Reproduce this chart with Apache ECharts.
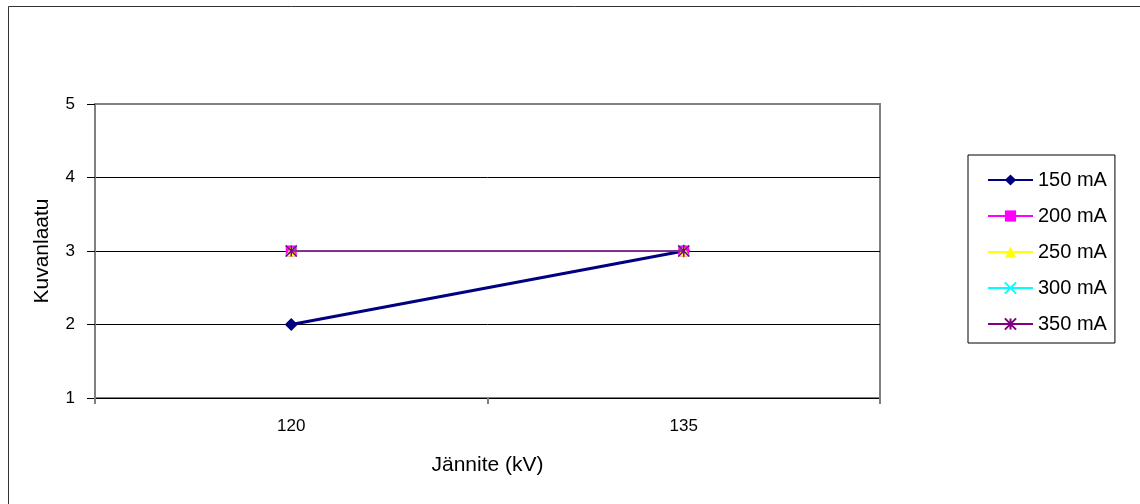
<!DOCTYPE html>
<html>
<head>
<meta charset="utf-8">
<script src="https://cdn.jsdelivr.net/npm/echarts@6/dist/echarts.min.js"></script>
<style>
  html, body { margin: 0; padding: 0; background: #fff; }
  #main { width: 1140px; height: 504px; }
</style>
</head>
<body>
<div id="main"></div>
<script>
// jännite (kV)
var categories = ['120', '135'];
// kuvanlaatu per virta
var s150 = [2, 3];
var s200 = [3, 3];
var s250 = [3, 3];
var s300 = [3, 3];
var s350 = [3, 3];

var font = 'Liberation Sans, Arial, sans-serif';
var chart = echarts.init(document.getElementById('main'));

var crossPath = 'path://M0,0L10,10M10,0L0,10';
var starPath = 'path://M0,0L10,10M10,0L0,10M5,0L5,10';

option = {
    animation: false,
    backgroundColor: '#fff',
    graphic: [{
        type: 'rect',
        shape: { x: 8.5, y: 6.5, width: 1200, height: 600 },
        style: { fill: 'none', stroke: '#333', lineWidth: 1 },
        silent: true
    }],
    grid: {
        left: 95, right: 260, top: 104, bottom: 106,
        show: true, borderColor: '#808080', borderWidth: 2
    },
    legend: {
        orient: 'vertical',
        left: 968, top: 155,
        padding: [15, 8, 9, 19],
        itemGap: 16,
        itemWidth: 45, itemHeight: 14,
        borderColor: '#000', borderWidth: 1,
        textStyle: { fontFamily: font, fontSize: 20, lineHeight: 20, color: '#000' },
        data: ['150 mA', '200 mA', '250 mA', '300 mA', '350 mA']
    },
    xAxis: {
        type: 'category',
        data: categories,
        boundaryGap: true,
        name: 'Jännite (kV)',
        nameLocation: 'middle',
        nameGap: 57,
        nameTextStyle: { fontFamily: font, fontSize: 21, color: '#000' },
        axisLine: { lineStyle: { color: '#000', width: 1 } },
        axisTick: { show: true, interval: 0, length: 6, lineStyle: { color: '#808080', width: 2 } },
        axisLabel: { fontFamily: font, fontSize: 17, color: '#000', margin: 20 },
        splitLine: { show: false }
    },
    yAxis: {
        type: 'value',
        min: 1, max: 5, interval: 1,
        name: 'Kuvanlaatu',
        nameLocation: 'middle',
        nameGap: 42,
        nameRotate: 90,
        nameTextStyle: { fontFamily: font, fontSize: 21, color: '#000' },
        axisLine: { show: true, lineStyle: { color: '#808080', width: 2 } },
        axisTick: { show: true, length: 8, lineStyle: { color: '#000', width: 1 } },
        axisLabel: { fontFamily: font, fontSize: 17, color: '#000', margin: 20 },
        splitLine: { show: true, lineStyle: { color: ['transparent', '#000', '#000', '#000', 'transparent'], width: 1 } }
    },
    series: [
        {
            name: '150 mA', type: 'line', data: s150,
            symbol: 'diamond', symbolSize: 13,
            itemStyle: { color: '#000080' },
            lineStyle: { color: '#000080', width: 3 },
            z: 3
        },
        {
            name: '200 mA', type: 'line', data: s200,
            symbol: 'rect', symbolSize: 11,
            itemStyle: { color: '#ff00ff' },
            lineStyle: { color: '#ff00ff', width: 1 },
            z: 4
        },
        {
            name: '250 mA', type: 'line', data: s250,
            symbol: 'triangle', symbolSize: 11,
            itemStyle: { color: '#ffff00' },
            lineStyle: { color: '#ffff00', width: 1 },
            z: 5
        },
        {
            name: '300 mA', type: 'line', data: s300,
            symbol: crossPath, symbolSize: 11,
            itemStyle: { color: '#00ffff', borderColor: '#00ffff', borderWidth: 1.5 },
            lineStyle: { color: '#00ffff', width: 1 },
            z: 6
        },
        {
            name: '350 mA', type: 'line', data: s350,
            symbol: starPath, symbolSize: 11,
            itemStyle: { color: '#800080', borderColor: '#800080', borderWidth: 1.5 },
            lineStyle: { color: '#800080', width: 1.5 },
            z: 7
        }
    ]
};

chart.setOption(option);
</script>
</body>
</html>
